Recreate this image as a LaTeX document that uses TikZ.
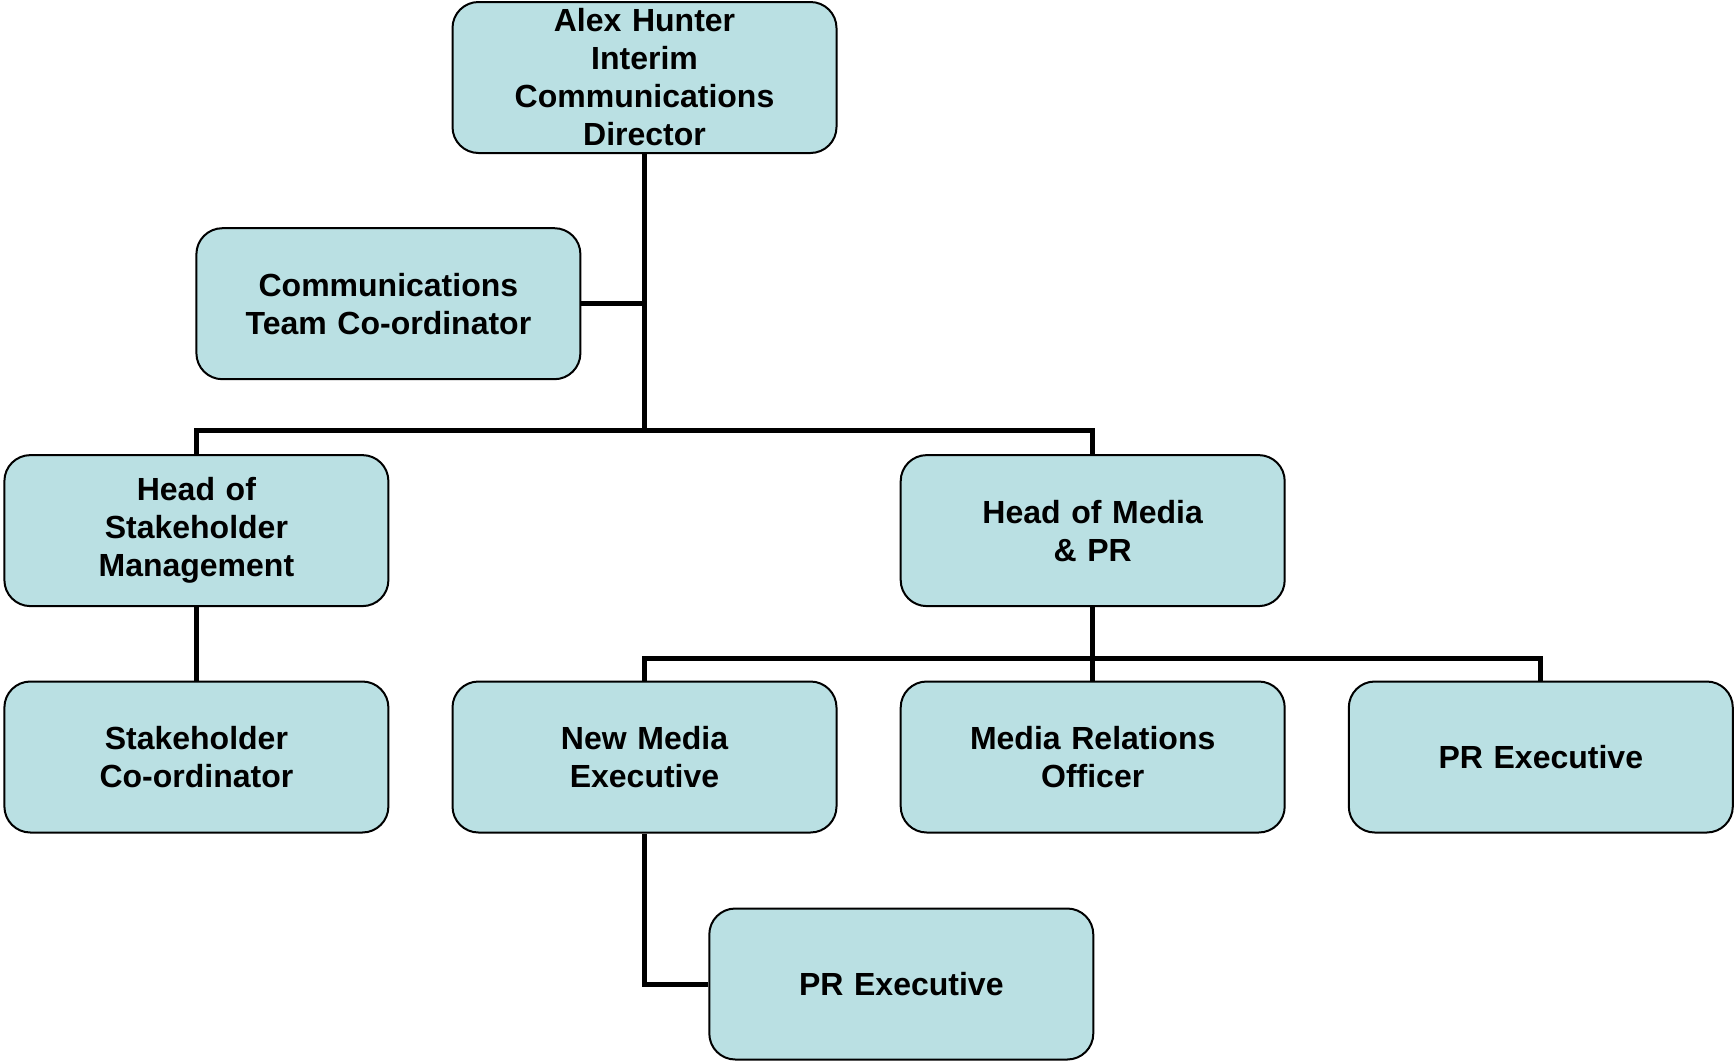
\documentclass[tikz,border=0pt]{standalone}
\usepackage{fontspec}
\setmainfont{Liberation Sans}
\definecolor{boxfill}{HTML}{BAE0E3}
\begin{document}
\begin{tikzpicture}[x=1pt,y=-1pt,
  orgbox/.style={draw=black, line width=2pt, fill=boxfill, rounded corners=26pt,
    minimum width=384pt, minimum height=151pt, inner sep=0pt,
    text width=370pt, align=center,
    font=\fontsize{32}{38}\selectfont\bfseries},
  link/.style={line width=5pt}]
\useasboundingbox (0,0) rectangle (1735,1061);
\node[orgbox] (top) at (644.5,77.5) {Alex Hunter\\Interim\\Communications\\Director};
\node[orgbox] (comm) at (388.4,303.7) {Communications\\Team Co-ordinator};
\node[orgbox] (hsm) at (196.4,530.6) {Head of\\Stakeholder\\Management};
\node[orgbox] (hmp) at (1092.7,530.6) {Head of Media\\\& PR};
\node[orgbox] (sc) at (196.4,757) {Stakeholder\\Co-ordinator};
\node[orgbox] (nme) at (644.5,757) {New Media\\Executive};
\node[orgbox] (mro) at (1092.7,757) {Media Relations\\Officer};
\node[orgbox] (pre) at (1540.8,757) {PR Executive};
\node[orgbox] (pre2) at (901.3,984) {PR Executive};
\coordinate (j1) at (644.5,430.5);
\coordinate (j2) at (1092.7,658);
\begin{scope}[on background layer/.try]
\end{scope}
\draw[link] (top.south) -- (j1);
\draw[link] (comm.east) -- (comm.east -| top.south);
\draw[link] (hsm.north) |- (j1) -| (hmp.north);
\draw[link] (hsm.south) -- (sc.north);
\draw[link] (hmp.south) -- (j2);
\draw[link] (nme.north) |- (j2) -| (pre.north);
\draw[link] (j2) -- (mro.north);
\draw[link] (nme.south) |- (pre2.west);
\end{tikzpicture}
\end{document}
